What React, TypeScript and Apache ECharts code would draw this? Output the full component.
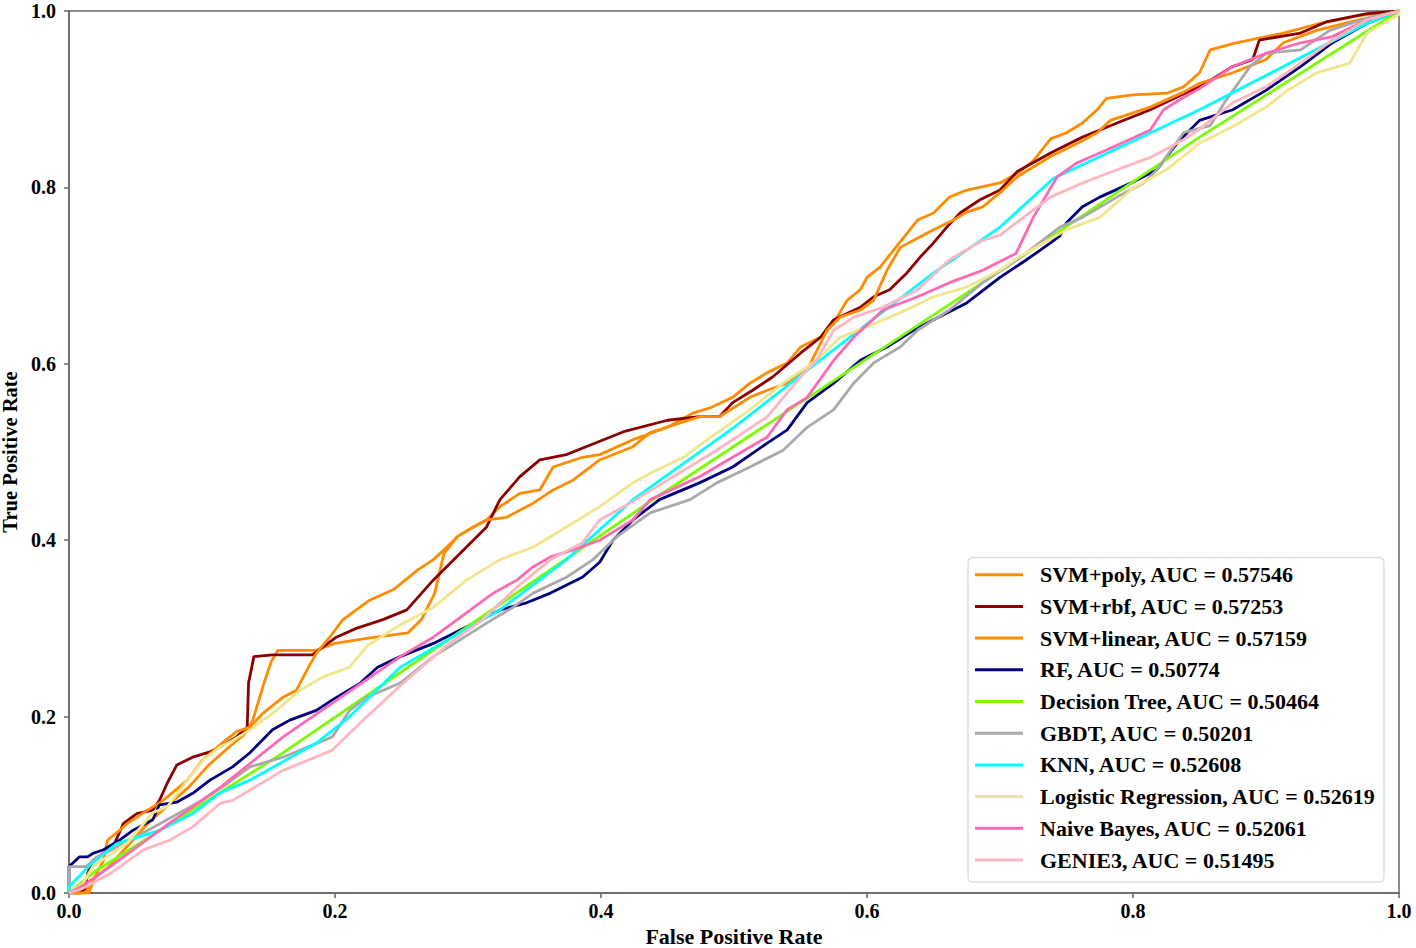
import React, { useEffect, useRef } from "react";
import * as echarts from "echarts";

type P = [number, number][];

const seriesNames = [
  "SVM+poly, AUC = 0.57546",
  "SVM+rbf, AUC = 0.57253",
  "SVM+linear, AUC = 0.57159",
  "RF, AUC = 0.50774",
  "Decision Tree, AUC = 0.50464",
  "GBDT, AUC = 0.50201",
  "KNN, AUC = 0.52608",
  "Logistic Regression, AUC = 0.52619",
  "Naive Bayes, AUC = 0.52061",
  "GENIE3, AUC = 0.51495",
];

const seriesColors = [
  "#ff8c00", "#8b0000", "#ff8c00", "#000080", "#7cfc00",
  "#a9a9a9", "#00ffff", "#f0e68c", "#ff69b4", "#ffb6c1",
];

const svmPoly: P = [[0,0],[0.012,0],[0.02,0.018],[0.03,0.03],[0.045,0.055],[0.06,0.08],[0.075,0.1],[0.09,0.12],[0.105,0.145],[0.12,0.165],[0.132,0.18],[0.138,0.195],[0.142,0.215],[0.147,0.24],[0.152,0.262],[0.157,0.275],[0.185,0.275],[0.2,0.283],[0.225,0.289],[0.255,0.295],[0.265,0.31],[0.275,0.34],[0.282,0.385],[0.292,0.404],[0.304,0.415],[0.314,0.423],[0.324,0.438],[0.339,0.453],[0.354,0.457],[0.364,0.483],[0.386,0.494],[0.399,0.497],[0.424,0.514],[0.45,0.528],[0.469,0.544],[0.482,0.55],[0.499,0.562],[0.512,0.578],[0.525,0.59],[0.54,0.601],[0.55,0.619],[0.565,0.63],[0.575,0.646],[0.585,0.672],[0.595,0.684],[0.6,0.698],[0.61,0.71],[0.62,0.729],[0.63,0.748],[0.638,0.763],[0.65,0.771],[0.662,0.789],[0.675,0.797],[0.7,0.805],[0.713,0.816],[0.725,0.83],[0.738,0.855],[0.75,0.862],[0.762,0.873],[0.773,0.888],[0.78,0.901],[0.8,0.905],[0.826,0.907],[0.838,0.914],[0.85,0.93],[0.858,0.956],[0.875,0.963],[0.913,0.975],[0.938,0.985],[0.971,0.995],[1,1]];

const svmRbf: P = [[0,0],[0.008,0],[0.012,0.005],[0.014,0.022],[0.018,0.037],[0.026,0.045],[0.033,0.052],[0.041,0.079],[0.051,0.09],[0.063,0.094],[0.068,0.105],[0.074,0.125],[0.081,0.145],[0.093,0.154],[0.106,0.16],[0.114,0.166],[0.126,0.177],[0.134,0.188],[0.135,0.238],[0.139,0.268],[0.153,0.27],[0.183,0.27],[0.191,0.279],[0.201,0.29],[0.216,0.3],[0.236,0.31],[0.254,0.321],[0.274,0.355],[0.294,0.385],[0.314,0.415],[0.324,0.446],[0.339,0.472],[0.354,0.491],[0.374,0.497],[0.392,0.508],[0.417,0.523],[0.45,0.536],[0.474,0.54],[0.489,0.54],[0.499,0.556],[0.514,0.57],[0.529,0.585],[0.55,0.612],[0.565,0.63],[0.575,0.65],[0.595,0.664],[0.605,0.676],[0.617,0.684],[0.63,0.703],[0.64,0.721],[0.65,0.737],[0.66,0.755],[0.67,0.771],[0.685,0.786],[0.7,0.797],[0.713,0.818],[0.738,0.839],[0.762,0.857],[0.788,0.873],[0.813,0.888],[0.838,0.906],[0.85,0.914],[0.862,0.925],[0.875,0.937],[0.89,0.945],[0.895,0.967],[0.926,0.975],[0.946,0.988],[0.976,0.997],[1,1]];

const svmLinear: P = [[0,0],[0.015,0],[0.02,0.02],[0.026,0.037],[0.029,0.06],[0.038,0.071],[0.044,0.079],[0.059,0.094],[0.068,0.102],[0.074,0.109],[0.089,0.128],[0.1,0.15],[0.116,0.171],[0.126,0.183],[0.136,0.188],[0.146,0.204],[0.161,0.222],[0.171,0.23],[0.179,0.253],[0.186,0.272],[0.196,0.29],[0.206,0.31],[0.216,0.321],[0.226,0.332],[0.244,0.344],[0.262,0.366],[0.274,0.378],[0.284,0.392],[0.292,0.404],[0.304,0.415],[0.314,0.423],[0.329,0.426],[0.349,0.442],[0.364,0.457],[0.379,0.468],[0.399,0.491],[0.424,0.506],[0.437,0.522],[0.474,0.54],[0.489,0.54],[0.512,0.562],[0.525,0.57],[0.54,0.578],[0.555,0.593],[0.57,0.638],[0.58,0.653],[0.595,0.661],[0.605,0.672],[0.615,0.706],[0.625,0.732],[0.64,0.744],[0.65,0.752],[0.665,0.763],[0.675,0.772],[0.687,0.778],[0.7,0.794],[0.713,0.812],[0.738,0.835],[0.762,0.853],[0.773,0.862],[0.783,0.876],[0.813,0.891],[0.838,0.908],[0.85,0.918],[0.875,0.93],[0.9,0.945],[0.913,0.964],[0.938,0.978],[0.97,0.99],[1,1]];

const rf: P = [[0,0],[0,0.03],[0.008,0.041],[0.014,0.041],[0.018,0.045],[0.026,0.049],[0.038,0.06],[0.048,0.071],[0.063,0.083],[0.068,0.1],[0.081,0.103],[0.093,0.113],[0.106,0.128],[0.123,0.143],[0.136,0.159],[0.153,0.185],[0.166,0.196],[0.186,0.207],[0.198,0.219],[0.219,0.238],[0.232,0.256],[0.249,0.268],[0.274,0.283],[0.299,0.302],[0.324,0.321],[0.344,0.329],[0.362,0.34],[0.386,0.358],[0.399,0.375],[0.409,0.4],[0.424,0.423],[0.444,0.446],[0.474,0.465],[0.499,0.483],[0.525,0.51],[0.54,0.525],[0.555,0.556],[0.575,0.578],[0.595,0.604],[0.615,0.619],[0.635,0.638],[0.65,0.65],[0.675,0.669],[0.7,0.698],[0.72,0.718],[0.738,0.737],[0.745,0.745],[0.75,0.76],[0.762,0.778],[0.775,0.789],[0.8,0.806],[0.818,0.82],[0.833,0.85],[0.85,0.876],[0.875,0.888],[0.9,0.91],[0.926,0.937],[0.95,0.964],[0.976,0.986],[1,1]];

const decisionTree: P = [[0,0],[0.02,0.025],[0.16,0.158],[0.44,0.447],[0.7,0.705],[0.85,0.857],[1,1]];

const gbdt: P = [[0,0],[0,0.03],[0.013,0.03],[0.02,0.04],[0.04,0.055],[0.07,0.08],[0.1,0.105],[0.12,0.125],[0.136,0.143],[0.161,0.154],[0.174,0.162],[0.198,0.177],[0.211,0.207],[0.224,0.222],[0.249,0.238],[0.274,0.268],[0.294,0.287],[0.314,0.306],[0.334,0.324],[0.349,0.34],[0.374,0.358],[0.394,0.378],[0.412,0.404],[0.437,0.431],[0.467,0.446],[0.487,0.465],[0.512,0.483],[0.537,0.502],[0.555,0.528],[0.575,0.548],[0.59,0.578],[0.605,0.601],[0.625,0.619],[0.638,0.638],[0.662,0.661],[0.687,0.692],[0.713,0.718],[0.745,0.755],[0.762,0.766],[0.788,0.789],[0.808,0.805],[0.818,0.82],[0.838,0.862],[0.858,0.87],[0.87,0.899],[0.88,0.92],[0.888,0.937],[0.9,0.952],[0.926,0.956],[0.948,0.978],[0.976,0.992],[1,1]];

const knn: P = [[0,0],[0,0.007],[0.016,0.032],[0.036,0.056],[0.068,0.071],[0.093,0.09],[0.113,0.113],[0.136,0.128],[0.186,0.17],[0.211,0.2],[0.249,0.256],[0.324,0.321],[0.374,0.378],[0.424,0.446],[0.5,0.528],[0.575,0.616],[0.65,0.703],[0.7,0.755],[0.74,0.81],[0.85,0.888],[0.976,0.986],[1,1]];

const logisticRegression: P = [[0,0],[0.01,0.01],[0.018,0.03],[0.044,0.057],[0.063,0.091],[0.074,0.098],[0.089,0.128],[0.101,0.151],[0.114,0.166],[0.123,0.173],[0.136,0.185],[0.156,0.207],[0.174,0.23],[0.191,0.245],[0.211,0.256],[0.224,0.28],[0.249,0.304],[0.274,0.324],[0.299,0.355],[0.324,0.378],[0.349,0.392],[0.374,0.415],[0.399,0.438],[0.424,0.465],[0.437,0.476],[0.462,0.494],[0.48,0.514],[0.512,0.548],[0.537,0.578],[0.562,0.604],[0.58,0.63],[0.6,0.642],[0.625,0.658],[0.65,0.676],[0.675,0.687],[0.7,0.706],[0.713,0.72],[0.75,0.752],[0.775,0.766],[0.8,0.799],[0.826,0.821],[0.85,0.85],[0.875,0.869],[0.9,0.891],[0.916,0.91],[0.938,0.93],[0.963,0.941],[0.976,0.975],[1,0.996],[1,1]];

const naiveBayes: P = [[0,0],[0.01,0.008],[0.031,0.03],[0.068,0.071],[0.114,0.12],[0.161,0.177],[0.249,0.268],[0.274,0.29],[0.319,0.34],[0.337,0.355],[0.349,0.37],[0.362,0.381],[0.379,0.389],[0.399,0.4],[0.412,0.412],[0.424,0.423],[0.437,0.446],[0.474,0.472],[0.499,0.494],[0.525,0.517],[0.54,0.548],[0.555,0.562],[0.575,0.604],[0.59,0.63],[0.612,0.661],[0.638,0.676],[0.662,0.692],[0.687,0.706],[0.7,0.716],[0.712,0.725],[0.725,0.766],[0.743,0.812],[0.758,0.828],[0.775,0.839],[0.8,0.856],[0.813,0.865],[0.823,0.888],[0.838,0.902],[0.85,0.912],[0.875,0.937],[0.9,0.952],[0.926,0.964],[0.95,0.971],[0.976,0.99],[1,1]];

const genie3: P = [[0,0],[0.01,0.005],[0.031,0.022],[0.056,0.049],[0.076,0.06],[0.093,0.075],[0.114,0.102],[0.123,0.105],[0.161,0.139],[0.198,0.162],[0.224,0.2],[0.249,0.235],[0.286,0.283],[0.311,0.31],[0.337,0.347],[0.362,0.378],[0.386,0.397],[0.399,0.423],[0.424,0.444],[0.45,0.468],[0.487,0.502],[0.525,0.54],[0.55,0.585],[0.562,0.604],[0.575,0.638],[0.59,0.653],[0.612,0.664],[0.638,0.684],[0.662,0.718],[0.687,0.74],[0.7,0.746],[0.738,0.789],[0.762,0.805],[0.788,0.82],[0.813,0.834],[0.838,0.854],[0.85,0.866],[0.875,0.896],[0.9,0.914],[0.926,0.941],[0.95,0.967],[0.976,0.99],[1,1]];

const seriesData: P[] = [svmPoly, svmRbf, svmLinear, rf, decisionTree, gbdt, knn, logisticRegression, naiveBayes, genie3];

const FONT = "'Liberation Serif', 'Times New Roman', serif";
const AXIS_COLOR = "#666";

export default function App() {
  const ref = useRef<HTMLDivElement>(null);

  useEffect(() => {
    if (!ref.current) return;
    document.body.style.margin = "0";
    const chart = echarts.init(ref.current, undefined, { renderer: "svg" });
    const axisCommon = {
      type: "value" as const,
      min: 0,
      max: 1,
      interval: 0.2,
      splitLine: { show: false },
      axisLine: { show: true, lineStyle: { color: AXIS_COLOR, width: 1.5 } },
      axisTick: { show: true, inside: false, length: 5, lineStyle: { color: AXIS_COLOR, width: 1.5 } },
    };
    chart.setOption({
      animation: false,
      backgroundColor: "#ffffff",
      grid: {
        left: 69,
        right: 17,
        top: 11,
        bottom: 55,
        containLabel: false,
        outerBoundsMode: "none",
        show: true,
        borderColor: AXIS_COLOR,
        borderWidth: 1.5,
        backgroundColor: "transparent",
      },
      xAxis: {
        ...axisCommon,
        name: "False Positive Rate",
        nameLocation: "middle",
        nameGap: 30,
        nameTextStyle: { fontFamily: FONT, fontWeight: "bold", fontSize: 22, color: "#000" },
        axisLabel: {
          margin: 8,
          fontFamily: FONT,
          fontWeight: "bold",
          fontSize: 20,
          color: "#000",
          formatter: (v: number) => v.toFixed(1),
        },
      },
      yAxis: {
        ...axisCommon,
        name: "True Positive Rate",
        nameLocation: "middle",
        nameGap: 48,
        nameTextStyle: { fontFamily: FONT, fontWeight: "bold", fontSize: 20.5, color: "#000" },
        axisLabel: {
          margin: 13,
          fontFamily: FONT,
          fontWeight: "bold",
          fontSize: 20,
          color: "#000",
          formatter: (v: number) => v.toFixed(1),
        },
      },
      legend: {
        orient: "vertical",
        left: 968,
        bottom: 66,
        icon: "rect",
        itemWidth: 48,
        itemHeight: 3,
        itemGap: 7.7,
        padding: [5, 8, 10, 7],
        backgroundColor: "rgba(255,255,255,0.85)",
        borderColor: "#d0d0d0",
        borderWidth: 1,
        borderRadius: 4,
        textStyle: {
          fontFamily: FONT,
          fontWeight: "bold",
          fontSize: 22,
          lineHeight: 24,
          color: "#000",
          padding: [0, 0, 0, 12],
        },
        data: seriesNames,
      },
      series: seriesData.map((d, i) => ({
        name: seriesNames[i],
        type: "line",
        data: d,
        symbol: "none",
        showSymbol: false,
        clip: true,
        lineStyle: { color: seriesColors[i], width: 2.8 },
        itemStyle: { color: seriesColors[i] },
        emphasis: { disabled: true },
        z: 2 + i,
      })),
    });
    return () => chart.dispose();
  }, []);

  return (
    <div
      ref={ref}
      style={{ position: "fixed", left: 0, top: 0, width: "1416px", height: "948px", background: "#fff" }}
    />
  );
}
